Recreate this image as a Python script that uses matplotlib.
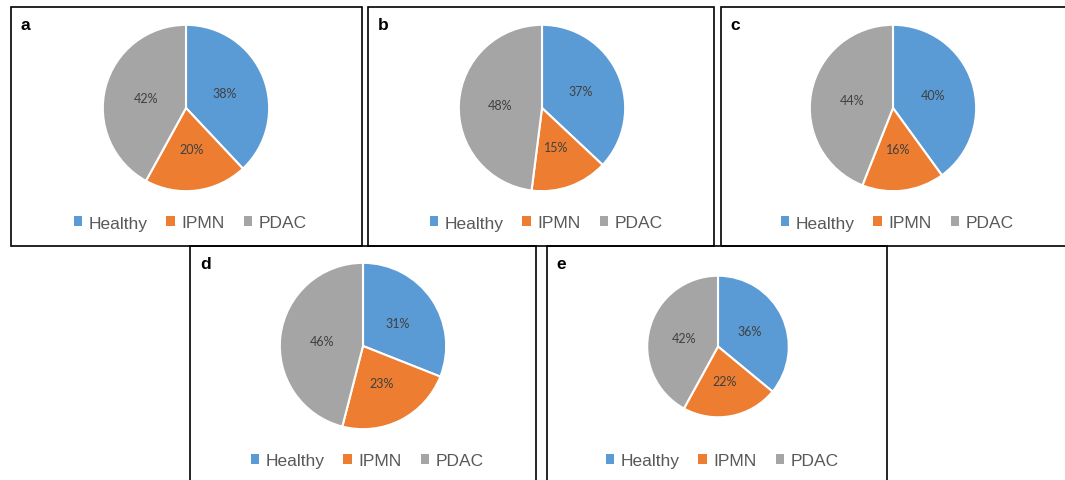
import matplotlib.pyplot as plt
from matplotlib.patches import Rectangle, Patch

# data per panel
panel_labels = ['a', 'b', 'c', 'd', 'e']
categories = ['Healthy', 'IPMN', 'PDAC']
healthy = [38, 37, 40, 31, 36]
ipmn = [20, 15, 16, 23, 22]
pdac = [42, 48, 44, 46, 42]
colors = ['#5B9BD5', '#ED7D31', '#A5A5A5']

W, H = 1065, 481
fig = plt.figure(figsize=(W / 100, H / 100), dpi=100)

def frac(x, y, w=0, h=0):
    # pixel box (top-left origin) -> figure fraction
    return [x / W, 1 - (y + h) / H, w / W, h / H]

# layout in pixels: box (x0, y0, x1, y1), pie centre, radius, legend y
boxes = [(10.7, 8.3, 361.7, 247), (368.3, 8.3, 714, 247), (720.7, 8.3, 1075, 247),
         (190, 246.7, 536, 490), (546.7, 246.7, 887, 490)]
centres = [(186, 109), (542, 109), (893, 109), (363, 347), (718, 347.5)]
radii = [84, 84, 84, 84, 71.5]
leg_y = [224, 224, 224, 462, 462]

for i in range(5):
    x0, y0, x1, y1 = boxes[i]
    fig.patches.append(Rectangle((x0 / W, 1 - y1 / H), (x1 - x0) / W, (y1 - y0) / H,
                                 transform=fig.transFigure, fill=False,
                                 edgecolor='black', linewidth=1.2))
    fig.text((x0 + 10) / W, 1 - (y0 + 22) / H, panel_labels[i], fontsize=12.5,
             fontweight='bold', family='Liberation Sans', va='baseline')

    cx, cy = centres[i]
    r = radii[i]
    ax = fig.add_axes(frac(cx - r, cy - r, 2 * r, 2 * r))
    vals = [healthy[i], ipmn[i], pdac[i]]
    wedges, texts, autotexts = ax.pie(vals, colors=colors, startangle=90, counterclock=False,
                                      autopct='%d%%', pctdistance=0.5,
                                      wedgeprops=dict(edgecolor='white', linewidth=1.5),
                                      textprops=dict(color='#404040', fontsize=9, family='Lato'))
    ax.set_xlim(-1.01, 1.01)
    ax.set_ylim(-1.01, 1.01)
    ax.axis('off')

    handles = [Patch(facecolor=c, edgecolor='none') for c in colors]
    fig.legend(handles, categories, loc='center', ncol=3,
               bbox_to_anchor=((cx + 4) / W, 1 - leg_y[i] / H), frameon=False,
               prop=dict(family='Liberation Sans', size=12.5), labelcolor='#595959',
               handlelength=0.5, handleheight=0.5, handletextpad=0.35,
               columnspacing=1.1, borderpad=0, borderaxespad=0)

fig.savefig('out.png', dpi=100)
